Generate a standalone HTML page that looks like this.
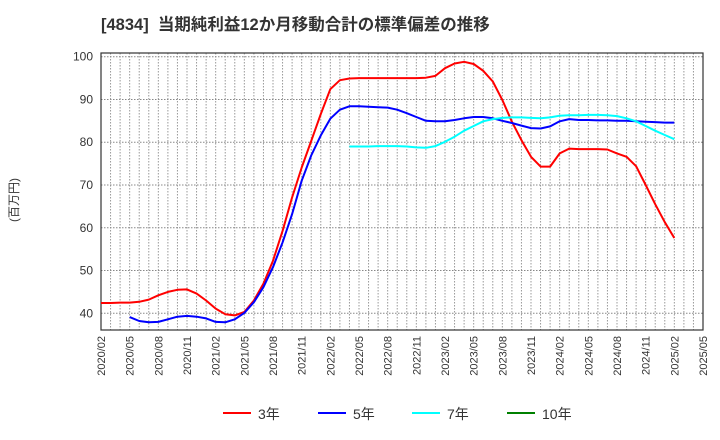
<!DOCTYPE html>
<html><head><meta charset="utf-8"><style>
body{margin:0;background:#fff;}
svg{display:block;font-family:"Liberation Sans","Noto Sans CJK JP",sans-serif;}
</style></head><body>
<svg id="chart" width="720" height="440"></svg>
<script>
const months = [];
for (let i = 0; i <= 63; i++) { const m = 1 + i; const y = 2020 + Math.floor(m / 12); months.push(y + '/' + String(m % 12 + 1).padStart(2, '0')); }
const yTicks = [40, 50, 60, 70, 80, 90, 100];
const s3 = [42.4,42.4,42.5,42.5,42.7,43.2,44.2,45.0,45.5,45.6,44.6,43.0,41.1,39.8,39.5,40.3,43.0,46.9,52.3,59.3,67.1,74.1,80.3,86.6,92.4,94.5,94.9,95.0,95.0,95.0,95.0,95.0,95.0,95.0,95.1,95.5,97.3,98.4,98.8,98.3,96.7,94.2,89.9,84.8,80.5,76.6,74.3,74.3,77.4,78.5,78.4,78.4,78.4,78.3,77.4,76.6,74.4,70.0,65.5,61.3,57.6];
const s5 = [null,null,null,39.1,38.2,37.9,38.0,38.6,39.2,39.4,39.2,38.8,38.0,37.9,38.6,40.1,42.6,46.1,50.8,56.6,63.2,71.0,76.9,81.6,85.5,87.6,88.4,88.4,88.3,88.2,88.1,87.6,86.8,85.9,85.0,84.9,84.9,85.2,85.6,85.9,85.9,85.6,85.0,84.5,83.9,83.3,83.2,83.7,84.9,85.4,85.2,85.2,85.1,85.1,85.0,85.0,84.9,84.8,84.7,84.6,84.6];
const s7 = [null,null,null,null,null,null,null,null,null,null,null,null,null,null,null,null,null,null,null,null,null,null,null,null,null,null,79.0,79.0,79.0,79.1,79.1,79.1,79.0,78.8,78.7,79.1,80.1,81.3,82.7,83.8,84.9,85.4,85.7,85.8,85.8,85.7,85.6,85.8,86.2,86.3,86.3,86.4,86.4,86.3,86.1,85.6,84.9,83.8,82.7,81.7,80.7];
const s10 = [];
const seriesNames = ['3年','5年','7年','10年'];
const seriesColors = ['#ff0000','#0000ff','#00ffff','#008000'];

const NS='http://www.w3.org/2000/svg';
const svg=document.getElementById('chart');
const L=101,R=703,T=53,B=330;
const xs=i=>L+(R-L)*i/63;
const ys=v=>313.3-(v-40)*(313.3-56.7)/60;
function mk(t,a,p){const e=document.createElementNS(NS,t);for(const k in a)e.setAttribute(k,a[k]);(p||svg).appendChild(e);return e;}

const title=mk('text',{x:101,y:30,'font-size':16.5,'font-weight':'bold',fill:'#333',style:'white-space:pre'});


title.textContent='[4834]  当期純利益12か月移動合計の標準偏差の推移';

const grid=mk('g',{});


for(let i=1;i<63;i++){mk('line',{x1:xs(i),x2:xs(i),y1:T,y2:B,stroke:'#999','stroke-dasharray':'1.5,1.5','stroke-width':1},grid);}
yTicks.forEach(v=>{mk('line',{x1:L,x2:R,y1:ys(v),y2:ys(v),stroke:'#888','stroke-dasharray':'1.5,1.5','stroke-width':1},grid);});

const frame=mk('rect',{x:L,y:T,width:R-L,height:B-T,fill:'none',stroke:'#333','stroke-width':1.2});



yTicks.forEach(v=>{const t=mk('text',{x:L-8,y:ys(v)+4,'font-size':12,fill:'#333','text-anchor':'end'});


t.textContent=v;});

for(let i=0;i<=63;i+=3){const x=xs(i);const t=mk('text',{x:0,y:0,'font-size':11,fill:'#333','text-anchor':'end',transform:`translate(${x+4},${B+6}) rotate(-90)`});


t.textContent=months[i];}

const yt=mk('text',{x:0,y:0,'font-size':12,fill:'#333','text-anchor':'middle',transform:'translate(18,200) rotate(-90)'});


yt.textContent='(百万円)';

[s3,s5,s7,s10].forEach((s,k)=>{let d='';let pen=false;s.forEach((v,i)=>{if(v==null){pen=false;return;}d+=(pen?'L':'M')+xs(i).toFixed(1)+','+ys(v).toFixed(1);pen=true;});
if(!d)return;const p=mk('path',{d:d,fill:'none',stroke:seriesColors[k],'stroke-width':2,'stroke-linejoin':'round'});

});

const lx=[223,318,412,507];
seriesNames.forEach((n,k)=>{const g=mk('g',{});


mk('line',{x1:lx[k],x2:lx[k]+28,y1:413,y2:413,stroke:seriesColors[k],'stroke-width':2},g);
const t=mk('text',{x:lx[k]+35,y:419,'font-size':14,fill:'#333'},g);t.textContent=n;});
</script>
</body></html>
